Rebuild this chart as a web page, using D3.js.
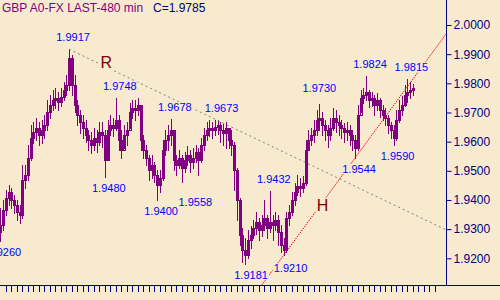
<!DOCTYPE html>
<html><head><meta charset="utf-8">
<script src="https://cdn.jsdelivr.net/npm/d3@7/dist/d3.min.js"></script>
<style>html,body{margin:0;padding:0;background:#f7eacf;}svg{display:block;}</style>
</head><body>
<svg id="chart" width="500" height="300"></svg>
<script>
// ---------- DATA ----------
const titleText = "GBP A0-FX LAST-480 min";
const lastText = "C=1.9785";
const firstOpen = 1.9290;
const closes = [1.9314,1.9366,1.9407,1.9427,1.9400,1.9383,1.9359,1.9348,1.9469,1.9486,
1.9544,1.9612,1.9633,1.9647,1.9623,1.9640,1.9657,1.9702,1.9726,1.9743,
1.9750,1.9736,1.9753,1.9777,1.9794,1.9887,1.9794,1.9726,1.9691,1.9667,
1.9647,1.9623,1.9606,1.9589,1.9612,1.9599,1.9633,1.9623,1.9537,1.9640,
1.9657,1.9647,1.9674,1.9606,1.9571,1.9623,1.9640,1.9702,1.9715,1.9709,
1.9726,1.9606,1.9571,1.9544,1.9503,1.9520,1.9486,1.9451,1.9475,1.9571,
1.9606,1.9623,1.9640,1.9537,1.9520,1.9544,1.9510,1.9537,1.9554,1.9530,
1.9544,1.9565,1.9537,1.9589,1.9623,1.9640,1.9647,1.9640,1.9650,1.9657,
1.9640,1.9630,1.9647,1.9606,1.9589,1.9503,1.9400,1.9280,1.9228,1.9211,
1.9263,1.9280,1.9304,1.9324,1.9297,1.9314,1.9338,1.9304,1.9324,1.9314,
1.9331,1.9290,1.9246,1.9228,1.9338,1.9359,1.9400,1.9427,1.9448,1.9441,
1.9458,1.9571,1.9606,1.9623,1.9640,1.9674,1.9681,1.9657,1.9640,1.9623,
1.9647,1.9681,1.9667,1.9657,1.9647,1.9633,1.9640,1.9623,1.9606,1.9578,
1.9691,1.9750,1.9760,1.9770,1.9743,1.9750,1.9726,1.9743,1.9709,1.9691,
1.9681,1.9657,1.9640,1.9612,1.9674,1.9709,1.9726,1.9760,1.9770,1.9777,
1.9785];
const highs = [1.9372,1.9400,1.9434,1.9451,1.9441,1.9417,1.9400,1.9383,1.9520,1.9520,
1.9589,1.9657,1.9667,1.9681,1.9667,1.9674,1.9691,1.9743,1.9760,1.9777,
1.9784,1.9770,1.9784,1.9805,1.9829,1.9917,1.9897,1.9829,1.9743,1.9709,
1.9691,1.9674,1.9640,1.9633,1.9647,1.9640,1.9667,1.9667,1.9640,1.9674,
1.9691,1.9681,1.9748,1.9691,1.9640,1.9657,1.9667,1.9733,1.9743,1.9743,
1.9750,1.9726,1.9623,1.9589,1.9554,1.9554,1.9530,1.9503,1.9503,1.9606,
1.9640,1.9657,1.9678,1.9640,1.9554,1.9571,1.9554,1.9565,1.9585,1.9571,
1.9578,1.9589,1.9578,1.9612,1.9647,1.9667,1.9674,1.9667,1.9674,1.9673,
1.9667,1.9661,1.9667,1.9647,1.9640,1.9599,1.9510,1.9407,1.9304,1.9269,
1.9297,1.9311,1.9331,1.9359,1.9338,1.9348,1.9400,1.9348,1.9432,1.9348,
1.9359,1.9348,1.9314,1.9269,1.9359,1.9383,1.9427,1.9458,1.9486,1.9475,
1.9482,1.9606,1.9640,1.9647,1.9674,1.9709,1.9730,1.9702,1.9674,1.9657,
1.9681,1.9715,1.9709,1.9691,1.9674,1.9664,1.9667,1.9657,1.9640,1.9623,
1.9726,1.9777,1.9784,1.9824,1.9777,1.9770,1.9760,1.9767,1.9750,1.9726,
1.9715,1.9691,1.9667,1.9657,1.9709,1.9743,1.9757,1.9794,1.9815,1.9805,
1.9798];
const lows = [1.9260,1.9297,1.9348,1.9383,1.9372,1.9355,1.9331,1.9321,1.9338,1.9441,
1.9469,1.9537,1.9595,1.9606,1.9589,1.9595,1.9612,1.9640,1.9681,1.9709,
1.9715,1.9709,1.9722,1.9743,1.9760,1.9777,1.9760,1.9702,1.9657,1.9630,
1.9612,1.9599,1.9571,1.9561,1.9571,1.9565,1.9589,1.9582,1.9480,1.9537,
1.9623,1.9619,1.9640,1.9571,1.9544,1.9578,1.9589,1.9647,1.9681,1.9674,
1.9691,1.9571,1.9544,1.9520,1.9469,1.9475,1.9462,1.9400,1.9427,1.9469,
1.9554,1.9571,1.9589,1.9503,1.9486,1.9510,1.9462,1.9496,1.9520,1.9496,
1.9510,1.9530,1.9486,1.9530,1.9571,1.9606,1.9619,1.9612,1.9623,1.9626,
1.9599,1.9589,1.9578,1.9578,1.9554,1.9434,1.9331,1.9246,1.9187,1.9181,
1.9201,1.9235,1.9269,1.9283,1.9263,1.9276,1.9297,1.9269,1.9290,1.9263,
1.9297,1.9246,1.9222,1.9210,1.9222,1.9314,1.9348,1.9383,1.9417,1.9414,
1.9427,1.9451,1.9571,1.9589,1.9599,1.9623,1.9640,1.9623,1.9606,1.9582,
1.9606,1.9640,1.9633,1.9623,1.9612,1.9599,1.9606,1.9589,1.9571,1.9544,
1.9571,1.9702,1.9733,1.9743,1.9719,1.9722,1.9691,1.9709,1.9685,1.9674,
1.9657,1.9630,1.9612,1.9590,1.9606,1.9667,1.9691,1.9722,1.9736,1.9750,
1.9760];
const priceTicks = [1.92,1.93,1.94,1.95,1.96,1.97,1.98,1.99,2.00];
// swing labels: bar index, price, text, kind (H = above, L = below)
const pivots = [
  {bar:25, price:1.9917, text:"1.9917", kind:"H"},
  {bar:42, price:1.9748, text:"1.9748", kind:"H"},
  {bar:62, price:1.9678, text:"1.9678", kind:"H"},
  {bar:79, price:1.9673, text:"1.9673", kind:"H"},
  {bar:98, price:1.9432, text:"1.9432", kind:"H"},
  {bar:116, price:1.9730, text:"1.9730", kind:"H"},
  {bar:133, price:1.9824, text:"1.9824", kind:"H"},
  {bar:148, price:1.9815, text:"1.9815", kind:"H"},
  {bar:0, price:1.9260, text:"1.9260", kind:"L"},
  {bar:38, price:1.9480, text:"1.9480", kind:"L"},
  {bar:57, price:1.9400, text:"1.9400", kind:"L"},
  {bar:68, price:1.9558, text:"1.9558", kind:"L"},
  {bar:89, price:1.9181, text:"1.9181", kind:"L"},
  {bar:103, price:1.9210, text:"1.9210", kind:"L"},
  {bar:129, price:1.9544, text:"1.9544", kind:"L"},
  {bar:143, price:1.9590, text:"1.9590", kind:"L"}
];
// trend lines through two pivots each
const resistance = {label:"R", a:{bar:25, price:1.9917}, b:{bar:79, price:1.9673}, labelBar:38.5};
const support = {label:"H", a:{bar:103, price:1.9210}, b:{bar:129, price:1.9544}, labelBar:117.2};
const tickBars = d3.range(2, 160, 2);

// ---------- LAYOUT ----------
const W = 500, H = 300;
const axisX = 446.5, axisY = 285.5;
const BG = "#f7eacf", PURPLE = "#800080", NAVY = "#000080", BLUE = "#0000ff", DARKRED = "#800000";
const FONT = "Liberation Sans, Arial, sans-serif";
const svg = d3.select("#chart");
svg.append("rect").attr("width", W).attr("height", H).attr("fill", BG);

const x = d3.scaleLinear().domain([0, 1]).range([0.3, 3.05]);
const y = d3.scaleLinear().domain([1.92, 2.00]).range([258.3, 25]);

const bars = closes.map((c, i) => ({
  i, o: i === 0 ? firstOpen : closes[i - 1], h: highs[i], l: lows[i], c
}));

svg.append("defs").append("clipPath").attr("id", "plot")
  .append("rect").attr("x", 0).attr("y", 0).attr("width", axisX).attr("height", axisY);

const plot = svg.append("g").attr("clip-path", "url(#plot)");

// candles
const cg = plot.append("g").attr("shape-rendering", "crispEdges");
bars.forEach(d => {
  const px = Math.round(x(d.i));
  cg.append("line").attr("x1", px + 0.5).attr("x2", px + 0.5)
    .attr("y1", Math.round(y(d.h))).attr("y2", Math.round(y(d.l)) + 1)
    .attr("stroke", PURPLE).attr("stroke-width", 1);
});
bars.forEach(d => {
  const px = Math.round(x(d.i));
  const top = Math.round(y(Math.max(d.o, d.c)));
  const bot = Math.round(y(Math.min(d.o, d.c)));
  if (d.c >= d.o) {
    cg.append("rect").attr("x", px - 0.5).attr("y", top + 0.5)
      .attr("width", 2).attr("height", Math.max(1, bot - top))
      .attr("fill", "none").attr("stroke", PURPLE).attr("stroke-width", 1);
  } else {
    cg.append("rect").attr("x", px - 1).attr("y", top)
      .attr("width", 3).attr("height", Math.max(1, bot - top + 1))
      .attr("fill", PURPLE);
  }
});

// trend lines extended to the price axis
function lineEnds(t, fromBar) {
  const slope = (t.b.price - t.a.price) / (t.b.bar - t.a.bar);
  const endBar = x.invert(axisX);
  return [[fromBar, t.a.price + slope * (fromBar - t.a.bar)], [endBar, t.a.price + slope * (endBar - t.a.bar)]];
}
const resPts = lineEnds(resistance, resistance.a.bar);
plot.append("line")
  .attr("x1", x(resPts[0][0])).attr("y1", y(resPts[0][1]))
  .attr("x2", x(resPts[1][0])).attr("y2", y(resPts[1][1]))
  .attr("stroke", "#808080").attr("stroke-width", 1).attr("stroke-dasharray", "2,3");
// support starts where it meets the time axis
const sSlope = (support.b.price - support.a.price) / (support.b.bar - support.a.bar);
const sStartBar = support.a.bar + (y.invert(axisY) - support.a.price) / sSlope;
const supPts = lineEnds(support, sStartBar);
plot.append("line")
  .attr("x1", x(supPts[0][0])).attr("y1", y(supPts[0][1]))
  .attr("x2", x(supPts[1][0])).attr("y2", y(supPts[1][1]))
  .attr("stroke", "#ff0000").attr("stroke-width", 1).attr("stroke-dasharray", "1.5,1");

// text with opaque background
function boxedText(g, tx, ty, txt, color, size, anchor) {
  const t = g.append("text").attr("x", tx).attr("y", ty).text(txt)
    .attr("fill", color).attr("font-size", size)
    .attr("font-family", FONT)
    .attr("text-anchor", anchor || "middle");
  const bb = t.node().getBBox();
  g.insert("rect", () => t.node())
    .attr("x", bb.x - 1).attr("y", bb.y + 1).attr("width", bb.width + 2).attr("height", bb.height - 2)
    .attr("fill", BG);
  return t;
}

const lg = svg.append("g");
const nudge = {"1.9730": [-4, -4], "1.9558": [4, 37], "1.9181": [2, 0], "1.9210": [3, 2]};
pivots.forEach(p => {
  const n = nudge[p.text] || [0, 0];
  const tx = x(p.bar) + 4 + n[0];
  const ty = p.kind === "H" ? y(p.price) - 8 + n[1] : y(p.price) + 15 + n[1];
  boxedText(lg, tx, ty, p.text, BLUE, "11px");
});

// R and H marks sitting on their lines
function markOn(t, pts, dy) {
  const slope = (pts[1][1] - pts[0][1]) / (pts[1][0] - pts[0][0]);
  const pr = pts[0][1] + slope * (t.labelBar - pts[0][0]);
  boxedText(lg, x(t.labelBar), y(pr) + dy, t.label, DARKRED, "16px");
}
markOn(resistance, resPts, 1);
markOn(support, supPts, 9);

// axes
const ag = svg.append("g").attr("shape-rendering", "crispEdges");
ag.append("line").attr("x1", axisX).attr("x2", axisX).attr("y1", 0).attr("y2", axisY)
  .attr("stroke", NAVY).attr("stroke-width", 1.5);
ag.append("line").attr("x1", 0).attr("x2", W).attr("y1", axisY).attr("y2", axisY)
  .attr("stroke", NAVY).attr("stroke-width", 1);

const yAxis = d3.axisRight(y).tickValues(priceTicks).tickSize(5).tickFormat(d3.format(".4f"));
const yg = svg.append("g").attr("transform", `translate(${axisX},0)`).call(yAxis);
yg.select(".domain").remove();
yg.selectAll("line").attr("stroke", NAVY);
yg.selectAll("text").attr("fill", NAVY).attr("font-size", "12px")
  .attr("font-family", FONT).attr("x", 7);

const xTicks = svg.append("g").attr("shape-rendering", "crispEdges");
xTicks.selectAll("line").data(tickBars).join("line")
  .attr("x1", d => Math.round(x(d)) + 0.5).attr("x2", d => Math.round(x(d)) + 0.5)
  .attr("y1", axisY).attr("y2", axisY + 6).attr("stroke", NAVY);

// title
svg.append("text").attr("x", 2).attr("y", 12).text(titleText)
  .attr("fill", PURPLE).attr("font-size", "12px").attr("font-family", FONT);
svg.append("text").attr("x", 153).attr("y", 12).text(lastText)
  .attr("fill", NAVY).attr("font-size", "12px").attr("font-family", FONT);
</script>
</body></html>
